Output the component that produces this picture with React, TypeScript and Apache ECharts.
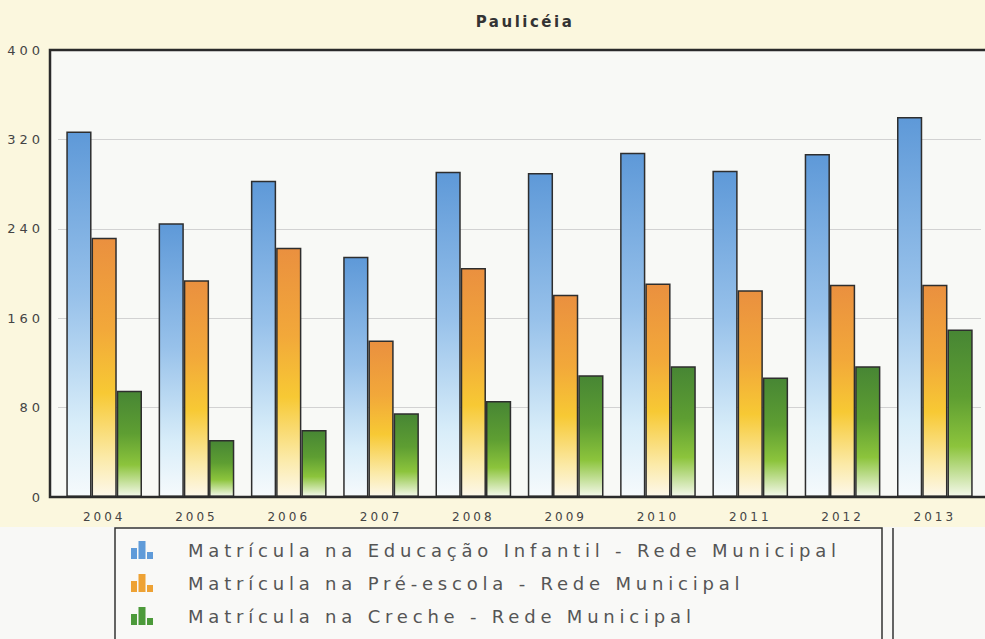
import React, { useEffect, useRef } from "react";
import * as echarts from "echarts";

const years = ["2004", "2005", "2006", "2007", "2008", "2009", "2010", "2011", "2012", "2013"];
const infantil = [327, 245, 283, 215, 291, 290, 308, 292, 307, 340];
const preEscola = [232, 194, 223, 140, 205, 181, 191, 185, 190, 190];
const creche = [95, 51, 60, 75, 86, 109, 117, 107, 117, 150];
const seriesNames = [
  "Matrícula na Educação Infantil - Rede Municipal",
  "Matrícula na Pré-escola - Rede Municipal",
  "Matrícula na Creche - Rede Municipal",
];
const yMin = 0;
const yMax = 400;
const yStep = 80;

const FONT = "DejaVu Sans";

const grad = (stops: [number, string][]) =>
  new echarts.graphic.LinearGradient(0, 0, 0, 1, stops.map(([offset, color]) => ({ offset, color })));

const iconPath = "path://M0,7h6v11h-6z M7.5,0h7v18h-7z M16,11h6v7h-6z";

export default function App() {
  const ref = useRef<HTMLDivElement>(null);
  useEffect(() => {
    if (!ref.current) return;
    const chart = echarts.init(ref.current, null, { renderer: "svg" });
    const border = { borderColor: "#2e2e2e", borderWidth: 1.5 };
    chart.setOption({
      animation: false,
      backgroundColor: "#f8f8f6",
      title: {
        text: "Paulicéia",
        left: 520,
        textAlign: "center",
        top: 9,
        textStyle: { fontFamily: FONT, fontSize: 15, fontWeight: "bold", color: "#333" },
      },
      graphic: [
        { type: "rect", silent: true, z: -20, shape: { x: 0, y: 0, width: 985, height: 527 }, style: { fill: "#fbf7de" } },
        { type: "rect", silent: true, z: -10, shape: { x: 50, y: 50, width: 945, height: 447 }, style: { fill: "#f8f9f6" } },
        { type: "rect", silent: true, z: 50, shape: { x: 50, y: 50, width: 945, height: 447 }, style: { fill: "none", stroke: "#2a2a2a", lineWidth: 2.5 } },
        { type: "rect", silent: true, z: -5, shape: { x: 115, y: 528, width: 767, height: 130 }, style: { fill: "#f9f9f7", stroke: "#333", lineWidth: 1.5 } },
        { type: "line", silent: true, z: -5, shape: { x1: 893, y1: 528, x2: 893, y2: 640 }, style: { stroke: "#333", lineWidth: 1.5 } },
      ],
      legend: {
        orient: "vertical",
        left: 126,
        top: 536,
        itemWidth: 22,
        itemHeight: 18,
        itemGap: 15,
        icon: iconPath,
        itemStyle: { borderWidth: 0 },
        textStyle: { fontFamily: FONT, fontSize: 18, color: "#555", lineHeight: 18, padding: [0, 0, 0, 30] },
        data: [
          { name: seriesNames[0], itemStyle: { color: "#5f9bd9", borderWidth: 0 } },
          { name: seriesNames[1], itemStyle: { color: "#eea234", borderWidth: 0 } },
          { name: seriesNames[2], itemStyle: { color: "#4c9a3a", borderWidth: 0 } },
        ],
      },
      grid: { left: 58, right: 4, top: 50, bottom: 142, containLabel: false },
      xAxis: {
        type: "category",
        data: years,
        axisLine: { show: false },
        axisTick: { show: false },
        axisLabel: { fontFamily: FONT, fontSize: 12, color: "#444", margin: 14 },
      },
      yAxis: {
        type: "value",
        min: yMin,
        max: yMax,
        interval: yStep,
        axisLine: { show: false },
        axisTick: { show: false },
        axisLabel: { fontFamily: FONT, fontSize: 13, color: "#444", margin: 14 },
        splitLine: { lineStyle: { color: "#d2d2d2", width: 1 } },
      },
      series: [
        {
          name: seriesNames[0],
          type: "bar",
          data: infantil,
          barGap: "0%",
          barCategoryGap: "18%",
          itemStyle: {
            ...border,
            color: grad([
              [0, "#5e99d8"],
              [0.45, "#97c1ea"],
              [0.8, "#d8edf9"],
              [1, "#f6fafc"],
            ]),
          },
        },
        {
          name: seriesNames[1],
          type: "bar",
          data: preEscola,
          barGap: "0%",
          barCategoryGap: "18%",
          itemStyle: {
            ...border,
            color: grad([
              [0, "#ea903f"],
              [0.35, "#f2a83a"],
              [0.6, "#f7c934"],
              [0.85, "#fbeaa8"],
              [1, "#fdf8ea"],
            ]),
          },
        },
        {
          name: seriesNames[2],
          type: "bar",
          data: creche,
          barGap: "0%",
          barCategoryGap: "18%",
          itemStyle: {
            ...border,
            color: grad([
              [0, "#478634"],
              [0.4, "#5e9e32"],
              [0.7, "#8cc43c"],
              [1, "#f4f8ea"],
            ]),
          },
        },
      ],
    });
    return () => chart.dispose();
  }, []);
  return (
    <>
      <style>{`
        #chart-box text[style*="18px"] { letter-spacing: 4.8px; }
        #chart-box text[style*="15px"] { letter-spacing: 2.5px; }
        #chart-box text[style*="13px"] { letter-spacing: 4px; }
        #chart-box text[style*="12px"] { letter-spacing: 3px; }
      `}</style>
      <div
        id="chart-box"
        ref={ref}
        style={{ position: "fixed", left: 0, top: 0, width: 985, height: 639 }}
      />
    </>
  );
}
